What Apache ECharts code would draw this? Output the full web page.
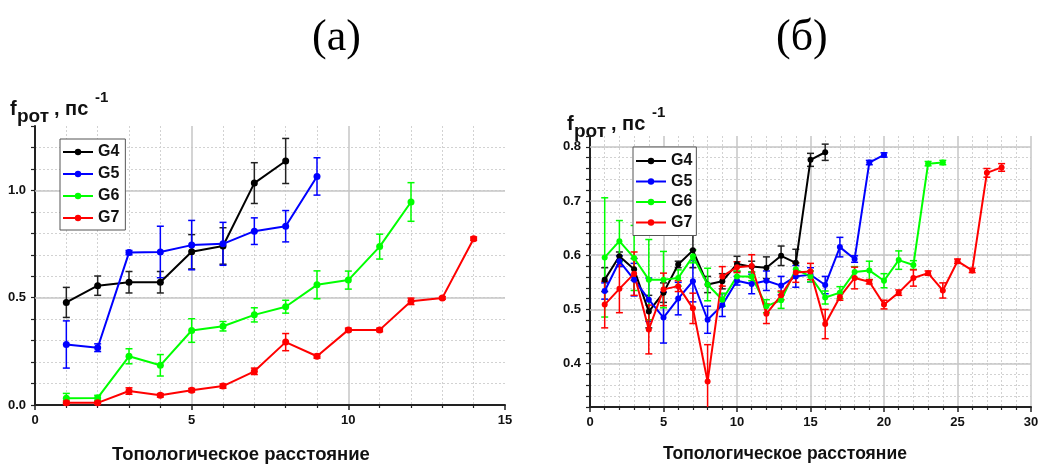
<!DOCTYPE html>
<html><head><meta charset="utf-8">
<script src="https://cdn.jsdelivr.net/npm/echarts@6/dist/echarts.min.js"></script>
<style>html,body{margin:0;padding:0;background:#fff}#c{width:1040px;height:464px}</style>
</head><body><div id="c"></div>
<script>
const seriesNames = ['G4', 'G5', 'G6', 'G7'];
const colors = ['#000000', '#0000ff', '#00ff00', '#ff0000'];
const errColors = ['#222222', '#0000ff', '#00ff00', '#ff0000'];

// Panel (a): values at topological distance 1..n
const aG4 = [0.478, 0.556, 0.572, 0.572, 0.714, 0.741, 1.034, 1.137];
const aG5 = [0.282, 0.267, 0.710, 0.713, 0.745, 0.751, 0.810, 0.833, 1.065];
const aG6 = [0.032, 0.033, 0.227, 0.185, 0.347, 0.367, 0.420, 0.458, 0.560, 0.582, 0.738, 0.946];
const aG7 = [0.011, 0.010, 0.065, 0.045, 0.069, 0.088, 0.157, 0.293, 0.227, 0.350, 0.350, 0.483, 0.499, 0.775];
const aG4err = [0.070, 0.045, 0.050, 0.050, 0.080, 0.085, 0.095, 0.105];
const aG5err = [0.110, 0.018, 0.010, 0.120, 0.115, 0.100, 0.062, 0.073, 0.087];
const aG6err = [0.022, 0.012, 0.035, 0.050, 0.055, 0.022, 0.033, 0.030, 0.065, 0.042, 0.058, 0.090];
const aG7err = [0.008, 0.006, 0.015, 0.008, 0.008, 0.010, 0.015, 0.040, 0.009, 0.008, 0.008, 0.015, 0.006, 0.008];

// Panel (б)
const bG4 = [0.555, 0.598, 0.574, 0.496, 0.531, 0.583, 0.609, 0.546, 0.552, 0.584, 0.579, 0.577, 0.599, 0.586, 0.776, 0.790];
const bG5 = [0.534, 0.589, 0.555, 0.518, 0.485, 0.520, 0.552, 0.481, 0.508, 0.553, 0.547, 0.553, 0.544, 0.561, 0.564, 0.545, 0.615, 0.593, 0.771, 0.785];
const bG6 = [0.596, 0.626, 0.595, 0.555, 0.555, 0.558, 0.598, 0.546, 0.518, 0.561, 0.561, 0.506, 0.517, 0.574, 0.561, 0.522, 0.531, 0.569, 0.572, 0.553, 0.591, 0.582, 0.769, 0.771];
const bG7 = [0.509, 0.538, 0.566, 0.463, 0.537, 0.543, 0.502, 0.367, 0.561, 0.578, 0.580, 0.492, 0.526, 0.568, 0.570, 0.473, 0.523, 0.558, 0.551, 0.509, 0.531, 0.558, 0.567, 0.535, 0.589, 0.572, 0.752, 0.762];
const bG4err = [0.022, 0.008, 0.020, 0.030, 0.018, 0.006, 0.032, 0.015, 0.014, 0.014, 0.010, 0.020, 0.018, 0.025, 0.012, 0.015];
const bG5err = [0.015, 0.010, 0.030, 0.040, 0.047, 0.030, 0.038, 0.025, 0.021, 0.008, 0.018, 0.018, 0.017, 0.020, 0.013, 0.016, 0.018, 0.006, 0.004, 0.004];
const bG6err = [0.110, 0.038, 0.060, 0.074, 0.052, 0.015, 0.012, 0.030, 0.012, 0.010, 0.008, 0.012, 0.015, 0.012, 0.010, 0.012, 0.011, 0.010, 0.017, 0.013, 0.017, 0.008, 0.004, 0.004];
const bG7err = [0.043, 0.044, 0.040, 0.045, 0.030, 0.010, 0.028, 0.068, 0.018, 0.010, 0.021, 0.018, 0.008, 0.018, 0.015, 0.027, 0.006, 0.020, 0.004, 0.008, 0.005, 0.015, 0.004, 0.014, 0.004, 0.004, 0.008, 0.007];

// Tick labels
const aXTicks = [0, 5, 10, 15];
const aYTicks = [0.0, 0.5, 1.0];
const bXTicks = [0, 5, 10, 15, 20, 25, 30];
const bYTicks = [0.4, 0.5, 0.6, 0.7, 0.8];

const xTitle = 'Топологическое расстояние';

const panels = [
  {vals: [aG4, aG5, aG6, aG7], errs: [aG4err, aG5err, aG6err, aG7err], sym: 7},
  {vals: [bG4, bG5, bG6, bG7], errs: [bG4err, bG5err, bG6err, bG7err], sym: 6}
];

const FONT = 'Liberation Sans';
const labelStyle = {fontFamily: FONT, fontWeight: 'bold', fontSize: 13, color: '#111'};
const dotted = {color: '#d2d2d2', type: [2, 2], width: 1};
const axisLine = {show: true, onZero: false, lineStyle: {color: '#222', width: 2}};

function isTick(list, v) { return list.some(t => Math.abs(t - v) < 1e-6); }

function renderErr(params, api) {
  const x = api.value(0), lo = api.value(1), hi = api.value(2);
  const cs = params.coordSys;
  const pHi = api.coord([x, hi]), pLo = api.coord([x, lo]);
  const bottom = cs.y + cs.height;
  let loY = pLo[1], loCap = true;
  if (loY > bottom) { loY = bottom; loCap = false; }
  const w = 3.5;
  const style = {stroke: api.visual('color'), lineWidth: 1.5};
  const ch = [
    {type: 'line', shape: {x1: pHi[0], y1: pHi[1], x2: pHi[0], y2: loY}, style},
    {type: 'line', shape: {x1: pHi[0] - w, y1: pHi[1], x2: pHi[0] + w, y2: pHi[1]}, style}
  ];
  if (loCap) ch.push({type: 'line', shape: {x1: pLo[0] - w, y1: loY, x2: pLo[0] + w, y2: loY}, style});
  return {type: 'group', children: ch};
}

const series = [];
panels.forEach((p, pi) => {
  // major horizontal grid lines
  series.push({
    type: 'line', name: 'grid' + pi, data: [], xAxisIndex: pi, yAxisIndex: pi, z: 1, silent: true,
    markLine: {
      silent: true, symbol: 'none', label: {show: false}, animation: false, z: 1,
      lineStyle: {color: '#c6c6c6', type: 'solid', width: 1.5},
      data: (pi === 0 ? aYTicks : bYTicks).filter(v => v > (pi === 0 ? 0 : 0.35)).map(v => ({yAxis: v}))
    }
  });
  p.vals.forEach((vals, si) => {
    series.push({
      type: 'custom', name: seriesNames[si] + ' err' + pi, xAxisIndex: pi, yAxisIndex: pi, z: 3,
      itemStyle: {color: errColors[si]},
      renderItem: renderErr,
      encode: {x: 0, y: [1, 2]},
      data: vals.map((v, i) => [i + 1, v - p.errs[si][i], v + p.errs[si][i]])
    });
    series.push({
      type: 'line', name: seriesNames[si], xAxisIndex: pi, yAxisIndex: pi, z: 4,
      symbol: 'circle', symbolSize: p.sym, showSymbol: true,
      itemStyle: {color: colors[si]},
      lineStyle: {color: colors[si], width: 2},
      data: vals.map((v, i) => [i + 1, v])
    });
  });
});

function supTitle(dx, dy) {
  const t = (text, x, y, size) => ({
    type: 'text', left: x + dx, top: y + dy, silent: true,
    style: {text, fontFamily: FONT, fontWeight: 'bold', fontSize: size, fill: '#111'}
  });
  return [t('f', 10, 99, 20), t('рот', 17, 107, 19), t(', пс', 54, 99, 20), t('-1', 95, 90, 15)];
}

const chart = echarts.init(document.getElementById('c'), null, {renderer: 'canvas'});
chart.setOption({
  animation: false,
  backgroundColor: '#fff',
  grid: [
    {left: 35, top: 126, width: 470, height: 279, outerBoundsMode: 'none'},
    {left: 590, top: 136, width: 441, height: 271, outerBoundsMode: 'none'}
  ],
  xAxis: [
    {type: 'value', gridIndex: 0, min: aXTicks[0], max: aXTicks[aXTicks.length - 1], interval: 5,
     axisLine, axisTick: {show: true, length: 5, lineStyle: {color: '#222', width: 1.5}},
     minorTick: {show: true, splitNumber: 5, length: 3, lineStyle: {color: '#222', width: 1.2}},
     axisLabel: Object.assign({margin: 9, formatter: v => isTick(aXTicks, v) ? String(v) : ''}, labelStyle),
     splitLine: {show: true, showMinLine: false, showMaxLine: false, lineStyle: {color: '#c6c6c6', width: 1.5}},
     minorSplitLine: {show: true, lineStyle: dotted}},
    {type: 'value', gridIndex: 1, min: bXTicks[0], max: bXTicks[bXTicks.length - 1], interval: 5,
     axisLine, axisTick: {show: true, length: 5, lineStyle: {color: '#222', width: 1.5}},
     minorTick: {show: true, splitNumber: 5, length: 3, lineStyle: {color: '#222', width: 1.2}},
     axisLabel: Object.assign({margin: 9, formatter: v => isTick(bXTicks, v) ? String(v) : ''}, labelStyle),
     splitLine: {show: true, showMinLine: false, showMaxLine: true, lineStyle: {color: '#c6c6c6', width: 1.5}},
     minorSplitLine: {show: true, lineStyle: dotted}}
  ],
  yAxis: [
    {type: 'value', gridIndex: 0, min: 0, max: 1.3, interval: 0.1,
     axisLine, axisTick: {show: true, length: 4, lineStyle: {color: '#222', width: 1.2}},
     axisLabel: Object.assign({margin: 9, formatter: v => isTick(aYTicks, v) ? v.toFixed(1) : ''}, labelStyle),
     splitLine: {show: true, showMinLine: false, showMaxLine: false, lineStyle: dotted}},
    {type: 'value', gridIndex: 1, min: 0.32, max: 0.82, interval: 0.02,
     axisLine, axisTick: {show: true, length: 4, lineStyle: {color: '#222', width: 1.2}},
     axisLabel: Object.assign({margin: 9, formatter: v => isTick(bYTicks, v) ? v.toFixed(1) : ''}, labelStyle),
     splitLine: {show: true, showMinLine: false, showMaxLine: false, lineStyle: dotted}}
  ],
  legend: [
    {data: seriesNames, orient: 'vertical', left: 60, top: 139, itemWidth: 30, itemHeight: 8, itemGap: 6,
     padding: [5, 6, 4, 2], borderColor: '#555', borderWidth: 1, backgroundColor: '#fff', selectedMode: false, z: 30,
     textStyle: {fontFamily: FONT, fontWeight: 'bold', fontSize: 16, color: '#111'}},
    {data: seriesNames, orient: 'vertical', left: 633, top: 147, itemWidth: 30, itemHeight: 8, itemGap: 4.5,
     padding: [6, 4, 5, 2], borderColor: '#555', borderWidth: 1, backgroundColor: '#fff', selectedMode: false, z: 30,
     textStyle: {fontFamily: FONT, fontWeight: 'bold', fontSize: 16, color: '#111'}}
  ],
  graphic: [
    {type: 'text', left: 312, top: 16, silent: true,
     style: {text: '(a)', fontFamily: 'Liberation Serif', fontSize: 44, fill: '#000'}},
    {type: 'text', left: 776, top: 16, silent: true,
     style: {text: '(б)', fontFamily: 'Liberation Serif', fontSize: 44, fill: '#000'}},
    {type: 'text', left: 112, top: 445, silent: true,
     style: {text: xTitle, fontFamily: FONT, fontWeight: 'bold', fontSize: 18.5, fill: '#111'}},
    {type: 'text', left: 663, top: 445, silent: true,
     style: {text: xTitle, fontFamily: FONT, fontWeight: 'bold', fontSize: 17.5, fill: '#111'}}
  ].concat(supTitle(0, 0), supTitle(557, 15)),
  series
});
</script>
</body></html>
